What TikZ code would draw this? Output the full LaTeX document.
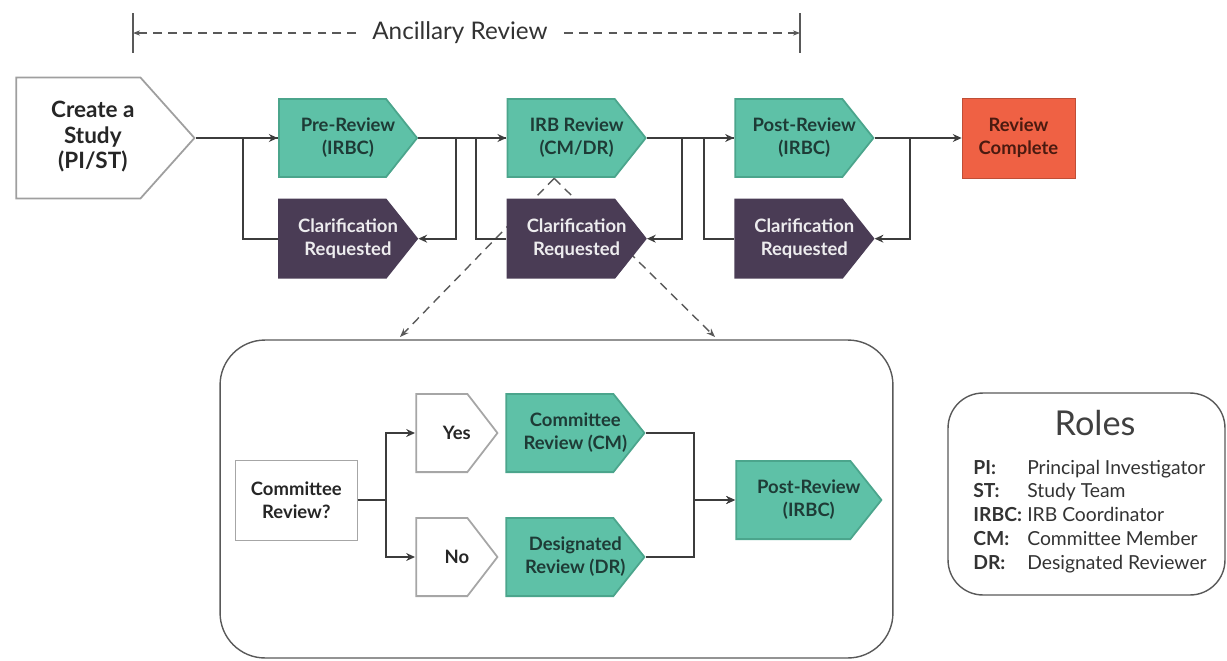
\documentclass[tikz,border=0pt]{standalone}
\usepackage{fontspec}
\setmainfont{Lato}
\usetikzlibrary{positioning, calc, arrows.meta}

\definecolor{tealbox}{HTML}{5EC1A7}
\definecolor{tealedge}{HTML}{4BA58C}
\definecolor{tealtext}{HTML}{1E3B36}
\definecolor{purplebox}{HTML}{4A3C55}
\definecolor{redbox}{HTML}{EF6144}
\definecolor{redtext}{HTML}{4A1A10}
\definecolor{linegray}{HTML}{3C3C3C}

\newcommand{\boxfont}{\fontsize{10.5}{13}\selectfont\bfseries}

\tikzset{
  pentfill/.store in=\pentfill, pentdraw/.store in=\pentdraw, pointlen/.store in=\pointlen,
  pentfill=white, pentdraw=gray, pointlen=0.64cm,
  pentagon/.style={rectangle, inner sep=0pt, align=center, minimum height=1.6cm, font=\boxfont,
    path picture={
      \path[fill=\pentfill, draw=\pentdraw, line width=1pt]
        ([shift={(.5pt,.5pt)}]path picture bounding box.south west)
        -- ([shift={(.5pt,-.5pt)}]path picture bounding box.north west)
        -- ([shift={(-\pointlen,-.5pt)}]path picture bounding box.north east)
        -- ([xshift=-.5pt]path picture bounding box.east)
        -- ([shift={(-\pointlen,.5pt)}]path picture bounding box.south east) -- cycle;}}
}

\begin{document}
\begin{tikzpicture}[x=0.02cm, y=-0.02cm,
  review/.style={pentagon, minimum width=2.8cm, pentfill=tealbox, pentdraw=tealedge, text=tealtext},
  clarify/.style={pentagon, minimum width=2.8cm, pentfill=purplebox, pentdraw=purplebox, text=white!90!purplebox},
  choice/.style={pentagon, minimum width=1.66cm, pointlen=0.62cm, pentfill=white, pentdraw=gray!70, text=black!85},
  flow/.style={draw=linegray, line width=1.1pt},
  arrow/.style={flow, -{Stealth[length=5pt, width=4.5pt]}},
  guide/.style={draw=gray!70!black, line width=0.8pt, dash pattern=on 5pt off 3.5pt},
  outline/.style={draw=gray!70!black, line width=0.8pt, rounded corners=0.9cm}]

\useasboundingbox (0,0) rectangle (1227,660);

% ancillary span
\node[font=\fontsize{13.8}{16}\selectfont, text=black!80, inner xsep=9pt] (anc) at (460,33) {Ancillary Review};
\coordinate (ancL) at (133,33);
\coordinate (ancR) at (800,33);
\draw[guide, -{Stealth[length=4pt]}] (anc.west) -- (ancL);
\draw[guide, -{Stealth[length=4pt]}] (anc.east) -- (ancR);
\draw[gray!70!black, line width=0.8pt] ([yshift=0.4cm]ancL) -- ([yshift=-0.4cm]ancL);
\draw[gray!70!black, line width=0.8pt] ([yshift=0.4cm]ancR) -- ([yshift=-0.4cm]ancR);

% main row
\node[pentagon, minimum width=3.6cm, minimum height=2.46cm, pointlen=1.1cm, pentfill=white, pentdraw=gray!75,
      font=\fontsize{12.8}{14.5}\selectfont\bfseries, text=black!85, anchor=west] (create) at (15,138)
      {\begin{tabular}{@{}c@{}}Create a\\Study\\(PI/ST)\end{tabular}\hspace*{0.5cm}};
\node[review, right=1.64cm of create] (pre) {Pre-Review\\(IRBC)};
\node[clarify, below=0.4cm of pre] (clar1) {Clarification\\Requested};
\node[review, right=1.76cm of pre] (irb) {IRB Review\\(CM/DR)};
\coordinate (fanL) at (400,337);
\coordinate (fanR) at (715,337);
\draw[guide, -{Stealth[length=5pt]}] ([xshift=-0.45cm]irb.south) -- (fanL);
\draw[guide, -{Stealth[length=5pt]}] ([xshift=-0.45cm]irb.south) -- (fanR);
\node[clarify, below=0.4cm of irb] (clar2) {Clarification\\Requested};
\node[review, right=1.74cm of irb] (post) {Post-Review\\(IRBC)};
\node[clarify, below=0.4cm of post] (clar3) {Clarification\\Requested};
\node[fill=redbox, draw=redbox!80!black, minimum width=2.26cm, minimum height=1.6cm, font=\boxfont,
      text=redtext, align=center, right=1.74cm of post] (done) {Review\\Complete};

\draw[arrow] (create.east) -- (pre.west);
\draw[flow] (clar1.west) -- ++(-35,0) |- (pre.west);
\draw[arrow] (pre.east) -- ++(38,0) |- (clar1.east);
\draw[arrow] (pre.east) -- (irb.west);
\draw[flow] (clar2.west) -- ++(-30,0) |- (irb.west);
\draw[arrow] (irb.east) -- ++(35,0) |- (clar2.east);
\draw[arrow] (irb.east) -- (post.west);
\draw[flow] (clar3.west) -- ++(-30,0) |- (post.west);
\draw[arrow] (post.east) -- ++(35,0) |- (clar3.east);
\draw[arrow] (post.east) -- (done.west);

% IRB review detail
\node[outline, minimum width=13.46cm, minimum height=6.36cm] (panel) at (556.5,499) {};
\node[draw=gray!70, fill=white, minimum width=2.44cm, minimum height=1.6cm, font=\boxfont,
      text=black!85, align=center, anchor=west] (ask) at (235,500) {Committee\\Review?};
\node[choice, anchor=west] (yes) at (415,433) {Yes};
\node[choice, anchor=west] (no) at (415,557) {No};
\node[review, anchor=west] (cmrev) at (505,433) {Committee\\Review (CM)};
\node[review, anchor=west] (drrev) at (505,557) {Designated\\Review (DR)};
\node[review, minimum width=2.94cm, anchor=west] (postin) at (735,500) {Post-Review\\(IRBC)};

\draw[arrow] (ask.east) -- ++(28,0) |- (yes.west);
\draw[arrow] (ask.east) -- ++(28,0) |- (no.west);
\draw[arrow] (cmrev.east) -- ++(48,0) |- (postin.west);
\draw[arrow] (drrev.east) -- ++(48,0) |- (postin.west);

% roles legend
\node[draw=gray!70!black, line width=0.8pt, rounded corners=0.7cm, minimum width=5.54cm, minimum height=4.04cm] (roles) at (1086.5,494) {};
\node[font=\fontsize{19.5}{22}\selectfont, text=black!75] (rolestitle) at (1095,423) {Roles};
\node[anchor=north west, inner sep=0pt, font=\fontsize{11}{13.6}\selectfont, text=black!80] (rolelist) at (973,457)
  {\begin{tabular}{@{}l@{\hspace{3pt}}l@{}}
   \textbf{PI:} & Principal Investigator\\
   \textbf{ST:} & Study Team\\
   \textbf{IRBC:} & IRB Coordinator\\
   \textbf{CM:} & Committee Member\\
   \textbf{DR:} & Designated Reviewer
   \end{tabular}};
\end{tikzpicture}
\end{document}
